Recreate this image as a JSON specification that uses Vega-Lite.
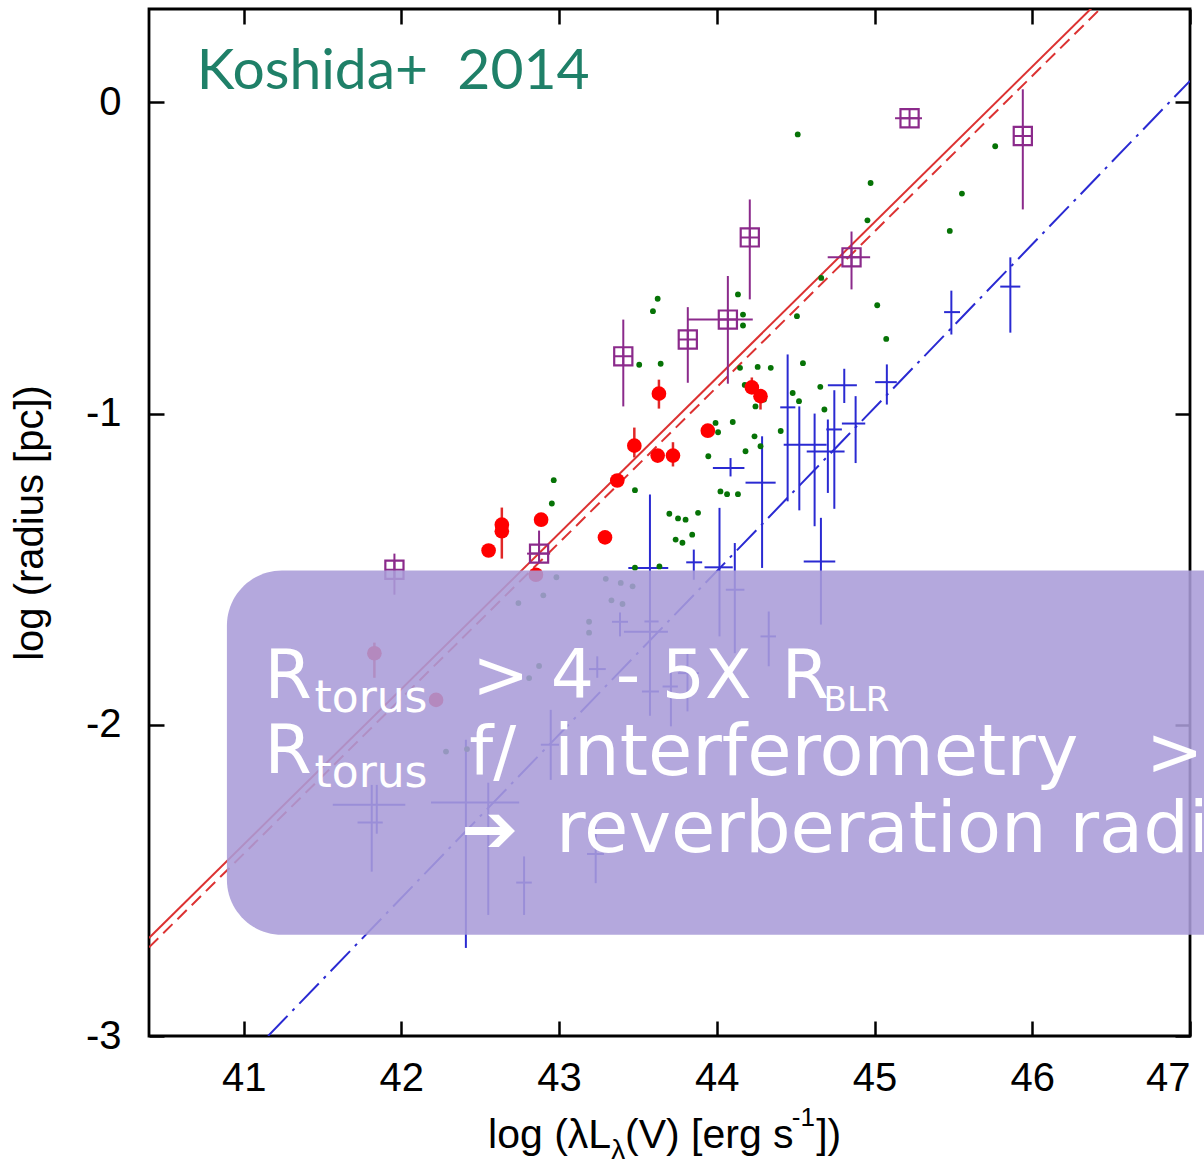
{
  "$schema": "https://vega.github.io/schema/vega-lite/v6.json",
  "width": 1041,
  "height": 1027,
  "autosize": {"type": "none"},
  "padding": {"left": 149, "top": 9, "right": 14, "bottom": 130},
  "background": "white",
  "config": {
    "view": {"stroke": "black", "strokeWidth": 2.8},
    "axis": {
      "grid": false, "domain": false, "tickColor": "black", "tickWidth": 2.5, "tickSize": -15,
      "labelFont": "Liberation Sans", "labelFontSize": 40, "labelColor": "black",
      "titleFont": "Liberation Sans", "titleFontSize": 40, "titleFontWeight": "normal", "titleColor": "black",
      "zindex": 0
    }
  },
  "datasets": {
    "lines": [
      {"s": "rs", "x": 40.4, "y": -2.685}, {"s": "rs", "x": 47, "y": 0.615},
      {"s": "rd", "x": 40.4, "y": -2.715}, {"s": "rd", "x": 47, "y": 0.585},
      {"s": "bd", "x": 41.155, "y": -3}, {"s": "bd", "x": 47, "y": 0.069}
    ],
    "purple": [
      {"x": 41.956, "y": -1.502, "xlo": 41.956, "xhi": 41.956, "ylo": -1.582, "yhi": -1.45},
      {"x": 42.873, "y": -1.45, "xlo": 42.797, "xhi": 42.943, "ylo": -1.479, "yhi": -1.376},
      {"x": 43.407, "y": -0.816, "xlo": 43.407, "xhi": 43.407, "ylo": -0.977, "yhi": -0.698},
      {"x": 43.816, "y": -0.762, "xlo": 43.816, "xhi": 43.816, "ylo": -0.901, "yhi": -0.658},
      {"x": 44.07, "y": -0.698, "xlo": 43.816, "xhi": 44.228, "ylo": -0.904, "yhi": -0.558},
      {"x": 44.209, "y": -0.434, "xlo": 44.209, "xhi": 44.209, "ylo": -0.633, "yhi": -0.312},
      {"x": 44.854, "y": -0.498, "xlo": 44.703, "xhi": 44.972, "ylo": -0.601, "yhi": -0.415},
      {"x": 45.222, "y": -0.051, "xlo": 45.13, "xhi": 45.301, "ylo": -0.051, "yhi": -0.051},
      {"x": 45.94, "y": -0.108, "xlo": 45.94, "xhi": 45.94, "ylo": -0.344, "yhi": 0.042}
    ],
    "red": [
      {"x": 43.633, "y": -0.936, "ylo": -0.984, "yhi": -0.891},
      {"x": 43.477, "y": -1.103, "ylo": -1.141, "yhi": -1.045},
      {"x": 43.625, "y": -1.135, "ylo": -1.135, "yhi": -1.135},
      {"x": 43.722, "y": -1.135, "ylo": -1.17, "yhi": -1.092},
      {"x": 43.369, "y": -1.215, "ylo": -1.215, "yhi": -1.215},
      {"x": 43.943, "y": -1.055, "ylo": -1.055, "yhi": -1.055},
      {"x": 43.291, "y": -1.398, "ylo": -1.398, "yhi": -1.398},
      {"x": 42.886, "y": -1.341, "ylo": -1.341, "yhi": -1.341},
      {"x": 42.637, "y": -1.357, "ylo": -1.357, "yhi": -1.302},
      {"x": 42.637, "y": -1.378, "ylo": -1.466, "yhi": -1.378},
      {"x": 42.553, "y": -1.44, "ylo": -1.44, "yhi": -1.44},
      {"x": 44.222, "y": -0.916, "ylo": -0.916, "yhi": -0.884},
      {"x": 44.277, "y": -0.944, "ylo": -0.987, "yhi": -0.944},
      {"x": 42.853, "y": -1.518, "ylo": -1.518, "yhi": -1.518},
      {"x": 41.829, "y": -1.77, "ylo": -1.849, "yhi": -1.736},
      {"x": 42.22, "y": -1.92, "ylo": -1.92, "yhi": -1.92}
    ],
    "green": [
      {"x": 44.513, "y": -0.103}, {"x": 44.975, "y": -0.259}, {"x": 44.955, "y": -0.379},
      {"x": 45.765, "y": -0.141}, {"x": 45.554, "y": -0.293}, {"x": 45.477, "y": -0.413},
      {"x": 44.662, "y": -0.564}, {"x": 44.134, "y": -0.617}, {"x": 43.625, "y": -0.631},
      {"x": 44.508, "y": -0.687}, {"x": 45.017, "y": -0.652}, {"x": 45.074, "y": -0.76},
      {"x": 44.546, "y": -0.838}, {"x": 44.656, "y": -0.914}, {"x": 44.481, "y": -0.934},
      {"x": 44.521, "y": -0.96}, {"x": 44.682, "y": -0.987}, {"x": 44.405, "y": -1.056},
      {"x": 43.595, "y": -0.671}, {"x": 44.166, "y": -0.682}, {"x": 44.166, "y": -0.717},
      {"x": 43.508, "y": -0.843}, {"x": 43.644, "y": -0.84}, {"x": 44.147, "y": -0.853},
      {"x": 44.259, "y": -0.85}, {"x": 44.342, "y": -0.853}, {"x": 44.177, "y": -0.908},
      {"x": 44.245, "y": -0.977}, {"x": 44.299, "y": -0.955}, {"x": 43.992, "y": -1.03},
      {"x": 44.008, "y": -1.06}, {"x": 44.101, "y": -1.027}, {"x": 44.239, "y": -1.073},
      {"x": 44.277, "y": -1.105}, {"x": 44.182, "y": -1.121}, {"x": 43.946, "y": -1.137},
      {"x": 43.481, "y": -1.246}, {"x": 44.023, "y": -1.25}, {"x": 44.065, "y": -1.259},
      {"x": 44.134, "y": -1.259}, {"x": 43.699, "y": -1.322}, {"x": 43.754, "y": -1.337},
      {"x": 43.802, "y": -1.341}, {"x": 43.881, "y": -1.319}, {"x": 43.844, "y": -1.389},
      {"x": 43.739, "y": -1.405}, {"x": 43.782, "y": -1.415}, {"x": 43.481, "y": -1.495},
      {"x": 43.636, "y": -1.491}, {"x": 42.966, "y": -1.214}, {"x": 42.954, "y": -1.289},
      {"x": 42.983, "y": -1.526}, {"x": 43.296, "y": -1.531}, {"x": 43.391, "y": -1.544},
      {"x": 43.466, "y": -1.555}, {"x": 43.332, "y": -1.6}, {"x": 43.402, "y": -1.612},
      {"x": 42.9, "y": -1.584}, {"x": 42.742, "y": -1.609}, {"x": 43.19, "y": -1.669},
      {"x": 43.19, "y": -1.704}, {"x": 42.873, "y": -1.811}, {"x": 42.81, "y": -1.85},
      {"x": 42.283, "y": -2.086}, {"x": 42.416, "y": -2.078}
    ],
    "blue": [
      {"x": 45.487, "y": -0.674, "xlo": 45.441, "xhi": 45.542, "ylo": -0.746, "yhi": -0.605},
      {"x": 45.861, "y": -0.592, "xlo": 45.797, "xhi": 45.924, "ylo": -0.74, "yhi": -0.498},
      {"x": 45.078, "y": -0.899, "xlo": 45.004, "xhi": 45.141, "ylo": -0.971, "yhi": -0.842},
      {"x": 44.808, "y": -0.909, "xlo": 44.704, "xhi": 44.888, "ylo": -0.966, "yhi": -0.856},
      {"x": 44.88, "y": -1.032, "xlo": 44.793, "xhi": 44.941, "ylo": -1.159, "yhi": -0.944},
      {"x": 44.449, "y": -0.98, "xlo": 44.402, "xhi": 44.498, "ylo": -1.282, "yhi": -0.81},
      {"x": 44.523, "y": -1.1, "xlo": 44.424, "xhi": 44.696, "ylo": -1.311, "yhi": -0.977},
      {"x": 44.62, "y": -1.122, "xlo": 44.57, "xhi": 44.81, "ylo": -1.362, "yhi": -1.0},
      {"x": 44.704, "y": -1.1, "xlo": 44.704, "xhi": 44.704, "ylo": -1.255, "yhi": -1.019},
      {"x": 44.745, "y": -1.051, "xlo": 44.694, "xhi": 44.793, "ylo": -1.306, "yhi": -0.925},
      {"x": 44.66, "y": -1.475, "xlo": 44.551, "xhi": 44.751, "ylo": -1.678, "yhi": -1.335},
      {"x": 44.087, "y": -1.175, "xlo": 43.975, "xhi": 44.175, "ylo": -1.202, "yhi": -1.143},
      {"x": 44.287, "y": -1.222, "xlo": 44.182, "xhi": 44.373, "ylo": -1.496, "yhi": -1.073},
      {"x": 43.576, "y": -1.496, "xlo": 43.439, "xhi": 43.692, "ylo": -1.971, "yhi": -1.26},
      {"x": 43.854, "y": -1.478, "xlo": 43.806, "xhi": 43.907, "ylo": -1.534, "yhi": -1.437},
      {"x": 44.017, "y": -1.494, "xlo": 43.922, "xhi": 44.101, "ylo": -1.716, "yhi": -1.303},
      {"x": 44.114, "y": -1.566, "xlo": 44.057, "xhi": 44.175, "ylo": -1.77, "yhi": -1.416},
      {"x": 44.329, "y": -1.716, "xlo": 44.277, "xhi": 44.375, "ylo": -1.812, "yhi": -1.636},
      {"x": 43.386, "y": -1.669, "xlo": 43.335, "xhi": 43.437, "ylo": -1.716, "yhi": -1.639},
      {"x": 43.57, "y": -1.701, "xlo": 43.411, "xhi": 43.69, "ylo": -1.701, "yhi": -1.701},
      {"x": 43.582, "y": -1.668, "xlo": 43.541, "xhi": 43.631, "ylo": -1.668, "yhi": -1.668},
      {"x": 43.576, "y": -1.893, "xlo": 43.525, "xhi": 43.633, "ylo": -1.893, "yhi": -1.893},
      {"x": 43.709, "y": -1.877, "xlo": 43.656, "xhi": 43.753, "ylo": -2.005, "yhi": -1.796},
      {"x": 43.814, "y": -1.834, "xlo": 43.753, "xhi": 43.886, "ylo": -1.957, "yhi": -1.764},
      {"x": 43.242, "y": -1.821, "xlo": 43.19, "xhi": 43.296, "ylo": -1.849, "yhi": -1.78},
      {"x": 42.947, "y": -2.064, "xlo": 42.884, "xhi": 43.0, "ylo": -2.177, "yhi": -1.952},
      {"x": 42.409, "y": -2.25, "xlo": 42.188, "xhi": 42.747, "ylo": -2.717, "yhi": -2.048},
      {"x": 42.551, "y": -2.25, "xlo": 42.551, "xhi": 42.551, "ylo": -2.611, "yhi": -2.186},
      {"x": 42.778, "y": -2.507, "xlo": 42.728, "xhi": 42.827, "ylo": -2.611, "yhi": -2.423},
      {"x": 41.812, "y": -2.257, "xlo": 41.565, "xhi": 42.025, "ylo": -2.472, "yhi": -2.193},
      {"x": 41.844, "y": -2.314, "xlo": 41.722, "xhi": 41.882, "ylo": -2.35, "yhi": -2.193},
      {"x": 43.232, "y": -2.415, "xlo": 43.177, "xhi": 43.285, "ylo": -2.509, "yhi": -2.327}
    ],
    "box": [{"x": 40.894, "x2": 48, "y": -1.504, "y2": -2.675}],
    "notes": [
      {"g": "big", "t": "R", "x": 41.133, "y": -1.913},
      {"g": "big", "t": "> 4 - 5X", "x": 42.449, "y": -1.913},
      {"g": "big", "t": "R", "x": 44.411, "y": -1.913},
      {"g": "big", "t": "R", "x": 41.133, "y": -2.154},
      {"g": "big", "t": "f/", "x": 42.43, "y": -2.161},
      {"g": "big2", "t": "interferometry", "x": 42.968, "y": -2.161},
      {"g": "big", "t": ">", "x": 46.722, "y": -2.161},
      {"g": "big", "t": "➔", "x": 42.38, "y": -2.408},
      {"g": "big2", "t": "reverberation radius", "x": 42.981, "y": -2.408},
      {"g": "sub", "t": "torus", "x": 41.449, "y": -1.958},
      {"g": "sub", "t": "torus", "x": 41.449, "y": -2.199},
      {"g": "blr", "t": "BLR", "x": 44.677, "y": -1.955},
      {"g": "kos", "t": "Koshida+\u00a0 2014", "x": 40.703, "y": 0.042},
      {"g": "xt1", "t": "log (λL", "x": 43.33, "y": -3.36},
      {"g": "xt2", "t": "(V) [erg s", "x": 43.418, "y": -3.36},
      {"g": "xt2", "t": "])", "x": 44.63, "y": -3.36},
      {"g": "xsub", "t": "λ", "x": 43.33, "y": -3.395},
      {"g": "xsup", "t": "-1", "x": 44.475, "y": -3.29}
    ]
  },
  "resolve": {"axis": {"x": "independent", "y": "independent"}},
  "layer": [
    {
      "data": {"name": "lines"},
      "transform": [{"filter": "datum.s == 'rs'"}],
      "mark": {"type": "line", "color": "#dc3232", "strokeWidth": 2, "clip": true},
      "encoding": {
        "x": {"field": "x", "type": "quantitative", "scale": {"domain": [40.4, 47], "nice": false, "zero": false},
              "axis": {"orient": "bottom", "values": [41, 42, 43, 44, 45, 46, 47], "title": null, "labelPadding": 37, "labelExpr": "'' + datum.value"}},
        "y": {"field": "y", "type": "quantitative", "scale": {"domain": [-3, 0.3], "nice": false, "zero": false},
              "axis": {"orient": "left", "values": [-3, -2, -1, 0], "title": "log (radius [pc])", "labelPadding": 43, "titlePadding": 35, "labelExpr": "'' + datum.value"}}
      }
    },
    {
      "data": {"name": "lines"},
      "transform": [{"filter": "datum.s == 'rd'"}],
      "mark": {"type": "line", "color": "#dc3232", "strokeWidth": 2, "strokeDash": [13, 7], "clip": true},
      "encoding": {
        "x": {"field": "x", "type": "quantitative", "scale": {"domain": [40.4, 47], "nice": false, "zero": false},
              "axis": {"orient": "top", "values": [41, 42, 43, 44, 45, 46, 47], "title": null, "labels": false}},
        "y": {"field": "y", "type": "quantitative", "scale": {"domain": [-3, 0.3], "nice": false, "zero": false},
              "axis": {"orient": "right", "values": [-3, -2, -1, 0], "title": null, "labels": false}}
      }
    },
    {
      "data": {"name": "lines"},
      "transform": [{"filter": "datum.s == 'bd'"}],
      "mark": {"type": "line", "color": "#2a2ad2", "strokeWidth": 2, "strokeDash": [28, 7, 3, 7], "clip": true},
      "encoding": {
        "x": {"field": "x", "type": "quantitative", "axis": null},
        "y": {"field": "y", "type": "quantitative", "axis": null}
      }
    },
    {
      "data": {"name": "blue"},
      "mark": {"type": "rule", "color": "#2a2ad2", "strokeWidth": 2, "clip": true},
      "encoding": {
        "x": {"field": "x", "type": "quantitative", "axis": null},
        "y": {"field": "ylo", "type": "quantitative", "axis": null},
        "y2": {"field": "yhi"}
      }
    },
    {
      "data": {"name": "blue"},
      "mark": {"type": "rule", "color": "#2a2ad2", "strokeWidth": 2, "clip": true},
      "encoding": {
        "x": {"field": "xlo", "type": "quantitative", "axis": null},
        "x2": {"field": "xhi"},
        "y": {"field": "y", "type": "quantitative", "axis": null}
      }
    },
    {
      "data": {"name": "green"},
      "mark": {"type": "circle", "color": "#067306", "size": 34, "opacity": 1},
      "encoding": {
        "x": {"field": "x", "type": "quantitative", "axis": null},
        "y": {"field": "y", "type": "quantitative", "axis": null}
      }
    },
    {
      "data": {"name": "red"},
      "mark": {"type": "rule", "color": "#e02828", "strokeWidth": 2.5},
      "encoding": {
        "x": {"field": "x", "type": "quantitative", "axis": null},
        "y": {"field": "ylo", "type": "quantitative", "axis": null},
        "y2": {"field": "yhi"}
      }
    },
    {
      "data": {"name": "red"},
      "mark": {"type": "circle", "color": "#ff0000", "size": 215, "opacity": 1},
      "encoding": {
        "x": {"field": "x", "type": "quantitative", "axis": null},
        "y": {"field": "y", "type": "quantitative", "axis": null}
      }
    },
    {
      "data": {"name": "purple"},
      "mark": {"type": "rule", "color": "#8b2a8b", "strokeWidth": 2},
      "encoding": {
        "x": {"field": "x", "type": "quantitative", "axis": null},
        "y": {"field": "ylo", "type": "quantitative", "axis": null},
        "y2": {"field": "yhi"}
      }
    },
    {
      "data": {"name": "purple"},
      "mark": {"type": "rule", "color": "#8b2a8b", "strokeWidth": 2},
      "encoding": {
        "x": {"field": "xlo", "type": "quantitative", "axis": null},
        "x2": {"field": "xhi"},
        "y": {"field": "y", "type": "quantitative", "axis": null}
      }
    },
    {
      "data": {"name": "purple"},
      "mark": {"type": "point", "shape": "square", "filled": false, "color": "#8b2a8b", "strokeWidth": 2.2, "size": 330, "opacity": 1},
      "encoding": {
        "x": {"field": "x", "type": "quantitative", "axis": null},
        "y": {"field": "y", "type": "quantitative", "axis": null}
      }
    },
    {
      "data": {"name": "purple"},
      "mark": {"type": "point", "shape": "M-1,0L1,0M0,-1L0,1", "filled": false, "color": "#8b2a8b", "strokeWidth": 2, "size": 330, "opacity": 1},
      "encoding": {
        "x": {"field": "x", "type": "quantitative", "axis": null},
        "y": {"field": "y", "type": "quantitative", "axis": null}
      }
    },
    {
      "data": {"name": "box"},
      "mark": {"type": "rect", "fill": "#aa9cd8", "opacity": 0.88, "cornerRadius": 55, "clip": false},
      "encoding": {
        "x": {"field": "x", "type": "quantitative", "axis": null},
        "x2": {"field": "x2"},
        "y": {"field": "y", "type": "quantitative", "axis": null},
        "y2": {"field": "y2"}
      }
    },
    {
      "data": {"name": "notes"},
      "transform": [{"filter": "datum.g == 'big'"}],
      "mark": {"type": "text", "font": "DejaVu Sans", "fontSize": 68, "color": "white", "align": "left", "baseline": "alphabetic"},
      "encoding": {
        "x": {"field": "x", "type": "quantitative", "axis": null},
        "y": {"field": "y", "type": "quantitative", "axis": null},
        "text": {"field": "t"}
      }
    },
    {
      "data": {"name": "notes"},
      "transform": [{"filter": "datum.g == 'big2'"}],
      "mark": {"type": "text", "font": "DejaVu Sans", "fontSize": 72, "color": "white", "align": "left", "baseline": "alphabetic"},
      "encoding": {
        "x": {"field": "x", "type": "quantitative", "axis": null},
        "y": {"field": "y", "type": "quantitative", "axis": null},
        "text": {"field": "t"}
      }
    },
    {
      "data": {"name": "notes"},
      "transform": [{"filter": "datum.g == 'sub'"}],
      "mark": {"type": "text", "font": "DejaVu Sans", "fontSize": 44, "color": "white", "align": "left", "baseline": "alphabetic"},
      "encoding": {
        "x": {"field": "x", "type": "quantitative", "axis": null},
        "y": {"field": "y", "type": "quantitative", "axis": null},
        "text": {"field": "t"}
      }
    },
    {
      "data": {"name": "notes"},
      "transform": [{"filter": "datum.g == 'blr'"}],
      "mark": {"type": "text", "font": "DejaVu Sans", "fontSize": 34, "color": "white", "align": "left", "baseline": "alphabetic"},
      "encoding": {
        "x": {"field": "x", "type": "quantitative", "axis": null},
        "y": {"field": "y", "type": "quantitative", "axis": null},
        "text": {"field": "t"}
      }
    },
    {
      "data": {"name": "notes"},
      "transform": [{"filter": "datum.g == 'kos'"}],
      "mark": {"type": "text", "font": "Lato", "fontSize": 57, "color": "#1f8068", "align": "left", "baseline": "alphabetic"},
      "encoding": {
        "x": {"field": "x", "type": "quantitative", "axis": null},
        "y": {"field": "y", "type": "quantitative", "axis": null},
        "text": {"field": "t"}
      }
    },
    {
      "data": {"name": "notes"},
      "transform": [{"filter": "datum.g == 'xt1'"}],
      "mark": {"type": "text", "font": "Liberation Sans", "fontSize": 41, "color": "black", "align": "right", "baseline": "alphabetic"},
      "encoding": {
        "x": {"field": "x", "type": "quantitative", "axis": null},
        "y": {"field": "y", "type": "quantitative", "axis": null},
        "text": {"field": "t"}
      }
    },
    {
      "data": {"name": "notes"},
      "transform": [{"filter": "datum.g == 'xt2'"}],
      "mark": {"type": "text", "font": "Liberation Sans", "fontSize": 41, "color": "black", "align": "left", "baseline": "alphabetic"},
      "encoding": {
        "x": {"field": "x", "type": "quantitative", "axis": null},
        "y": {"field": "y", "type": "quantitative", "axis": null},
        "text": {"field": "t"}
      }
    },
    {
      "data": {"name": "notes"},
      "transform": [{"filter": "datum.g == 'xsub'"}],
      "mark": {"type": "text", "font": "Liberation Sans", "fontSize": 28, "color": "black", "align": "left", "baseline": "alphabetic"},
      "encoding": {
        "x": {"field": "x", "type": "quantitative", "axis": null},
        "y": {"field": "y", "type": "quantitative", "axis": null},
        "text": {"field": "t"}
      }
    },
    {
      "data": {"name": "notes"},
      "transform": [{"filter": "datum.g == 'xsup'"}],
      "mark": {"type": "text", "font": "Liberation Sans", "fontSize": 26, "color": "black", "align": "left", "baseline": "alphabetic"},
      "encoding": {
        "x": {"field": "x", "type": "quantitative", "axis": null},
        "y": {"field": "y", "type": "quantitative", "axis": null},
        "text": {"field": "t"}
      }
    }
  ]
}
